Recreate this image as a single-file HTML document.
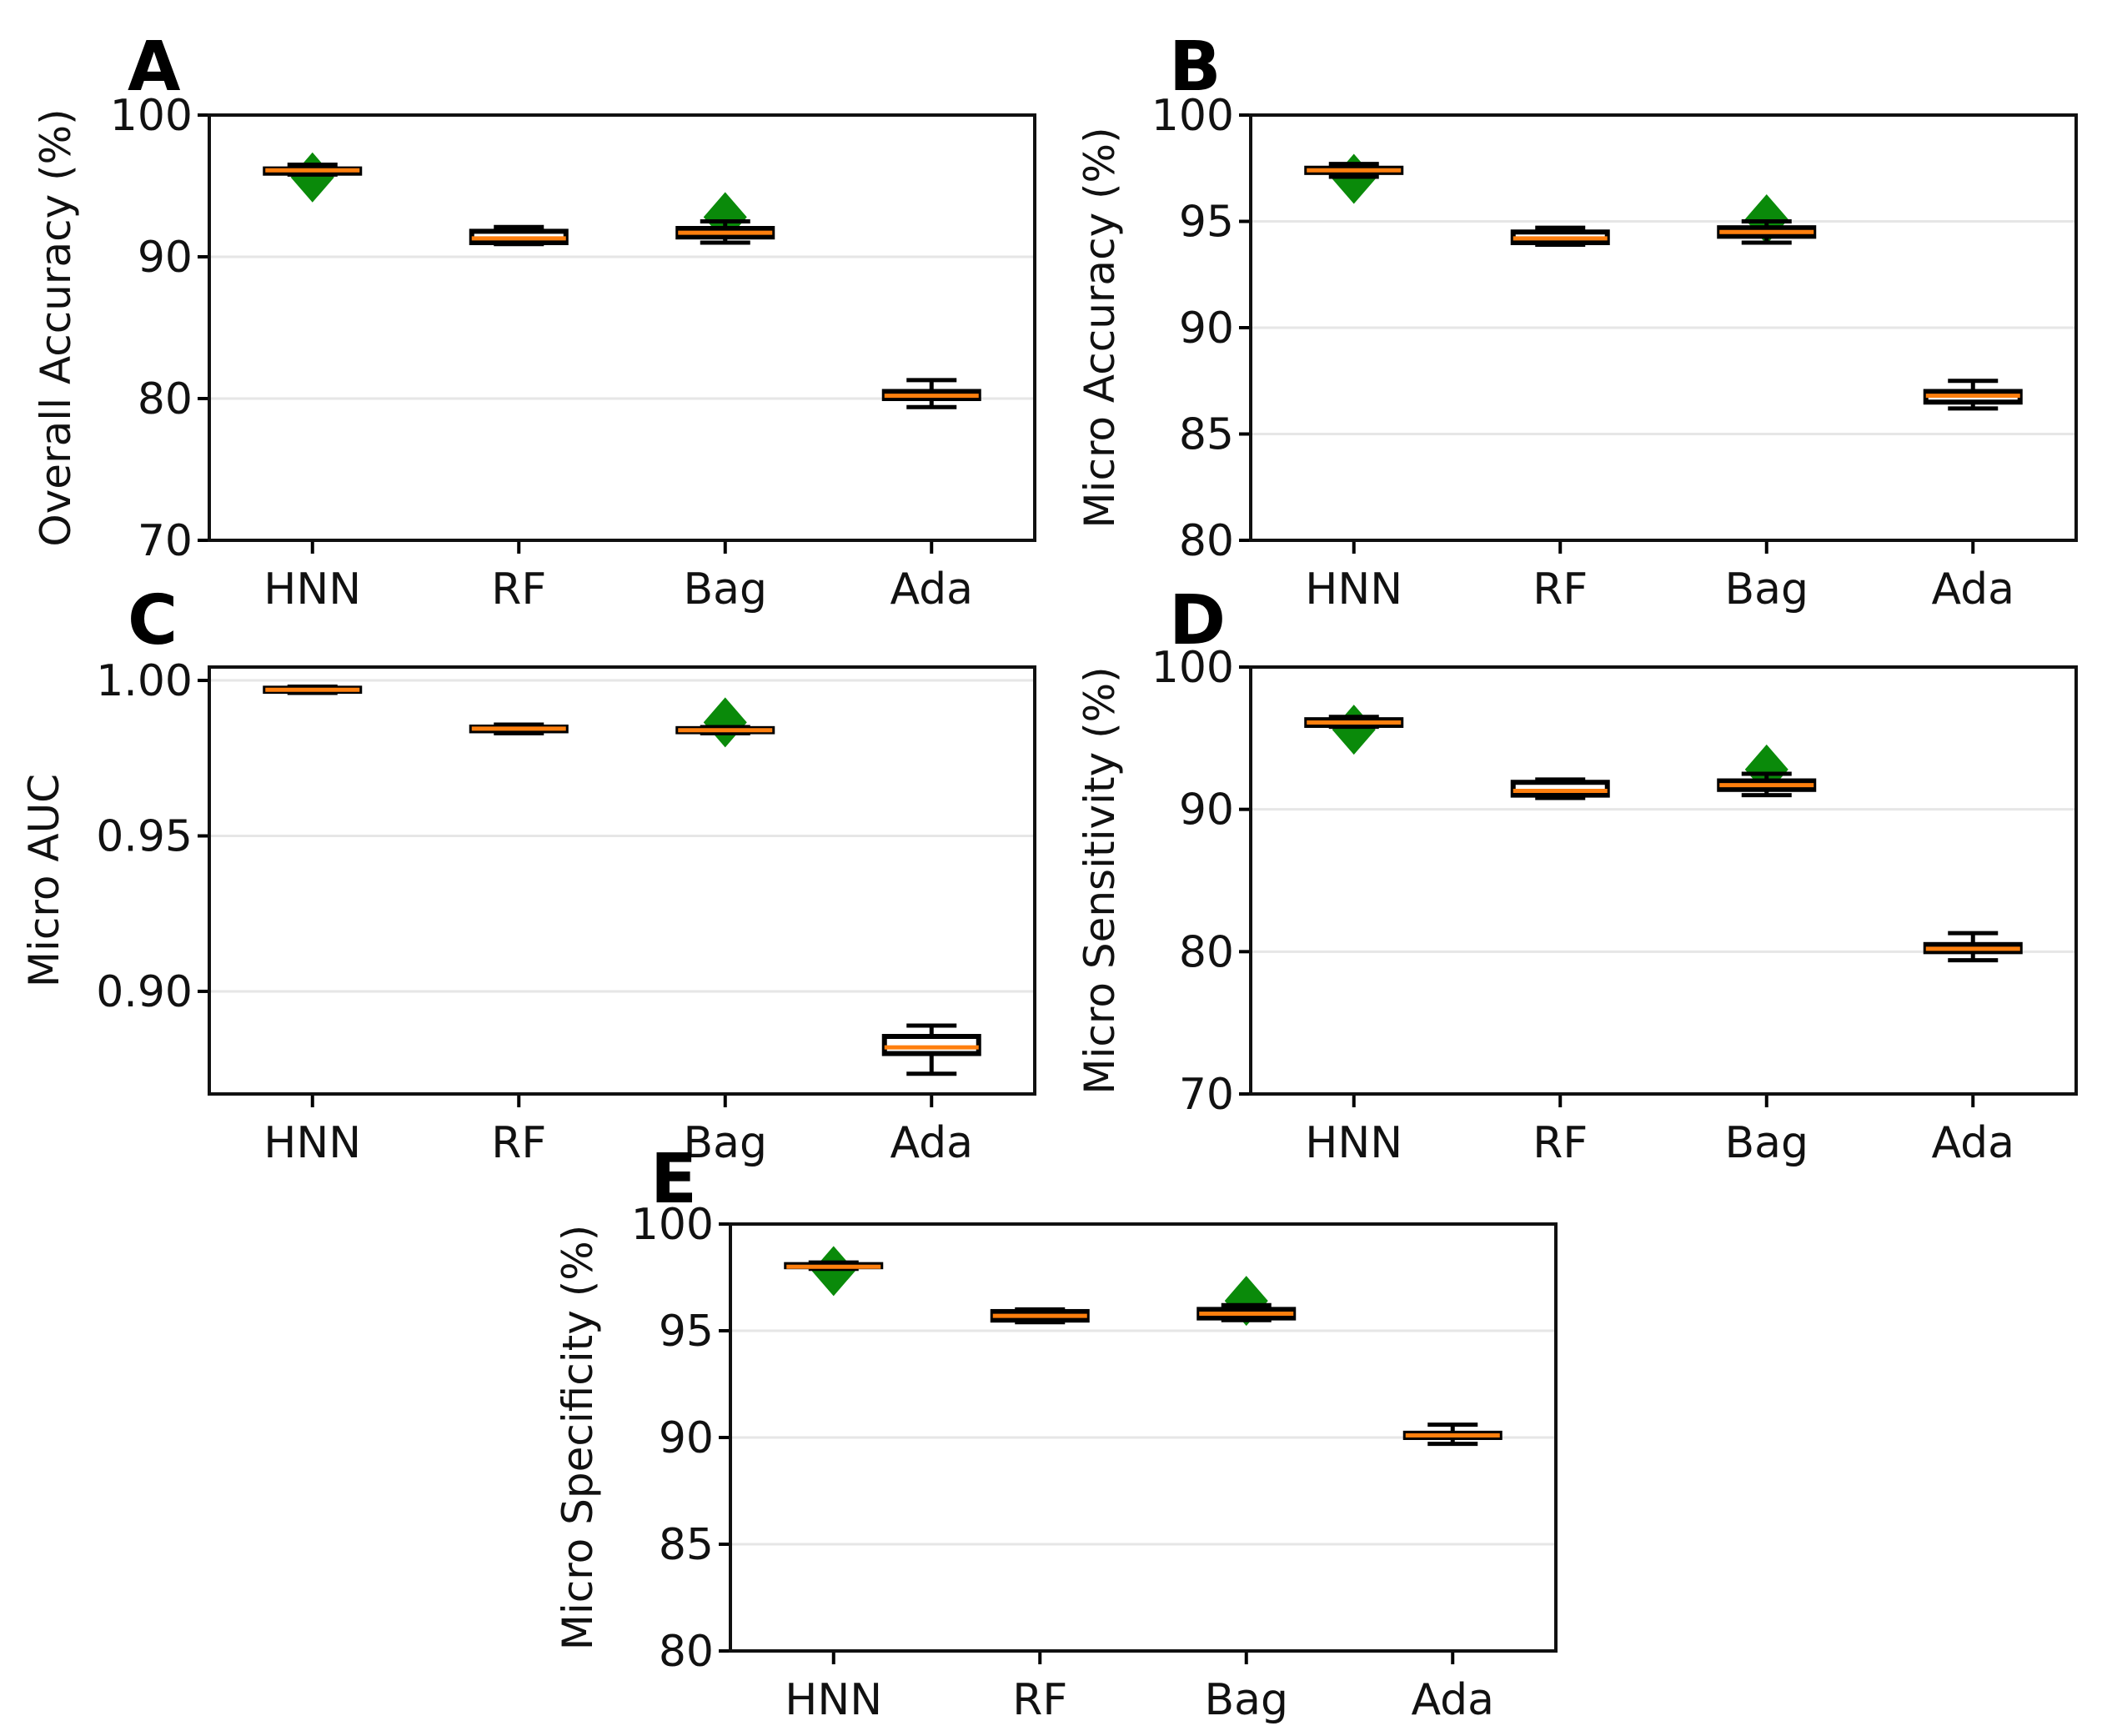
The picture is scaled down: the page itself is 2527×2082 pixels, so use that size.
<!DOCTYPE html>
<html><head><meta charset="utf-8"><style>
html,body{margin:0;padding:0;background:#fff;}
svg{display:block;font-family:"DejaVu Sans","Liberation Sans",sans-serif;}
</style></head><body>
<svg id="fig" width="2527" height="2082" viewBox="0 0 2527 2082" xmlns="http://www.w3.org/2000/svg"></svg>
<script>
const categories = ["HNN","RF","Bag","Ada"];
// per panel: [whiskerLow, q1, median, q3, whiskerHigh]
const statsA = [[95.8,95.9,96.1,96.2,96.5],[90.9,91.0,91.3,91.8,92.1],[91.0,91.4,91.7,92.0,92.5],[79.4,80.0,80.2,80.5,81.3]];
const meansA = [95.6,null,92.8,null];
const statsB = [[97.1,97.3,97.4,97.5,97.7],[93.9,94.0,94.2,94.5,94.7],[94.0,94.3,94.5,94.7,95.0],[86.2,86.5,86.8,87.0,87.5]];
const meansB = [97.0,null,95.1,null];
const statsC = [[0.9960,0.9965,0.9970,0.9975,0.9980],[0.9830,0.9838,0.9845,0.9850,0.9858],[0.9830,0.9835,0.9840,0.9845,0.9850],[0.8735,0.8800,0.8820,0.8855,0.8890]];
const meansC = [null,null,0.9865,null];
const statsD = [[95.8,95.9,96.1,96.3,96.5],[90.8,91.0,91.3,91.9,92.1],[91.0,91.4,91.7,92.0,92.5],[79.4,80.0,80.2,80.5,81.3]];
const meansD = [95.6,null,92.8,null];
const statsE = [[97.9,98.0,98.0,98.1,98.2],[95.4,95.5,95.7,95.9,96.0],[95.5,95.6,95.8,96.0,96.2],[89.7,90.0,90.1,90.2,90.6]];
const meansE = [97.8,null,96.4,null];
const ticksA = [70,80,90,100];
const ticksB = [80,85,90,95,100];
const ticksC = [0.90,0.95,1.00];
const ticksD = [70,80,90,100];
const ticksE = [80,85,90,95,100];
const tickLabelsC = ["0.90","0.95","1.00"];

const NS="http://www.w3.org/2000/svg";
const svg=document.getElementById('fig');
function mk(tag,attrs,parent){const e=document.createElementNS(NS,tag);for(const k in attrs)e.setAttribute(k,attrs[k]);(parent||svg).appendChild(e);return e;}

function panel(id,letter,L,T,R,B,ymin,ymax,ticks,tickLabels,stats,means,ylabel,labelX,letterX,letterY){
  const g=mk('g',{});
  
  
  const y=v=>B-(v-ymin)/(ymax-ymin)*(B-T);
  const x=i=>L+(R-L)*(i+0.5)/categories.length;
  ticks.forEach((t,i)=>{
    const gl=mk('line',{x1:L,x2:R,y1:y(t),y2:y(t),stroke:'#e6e6e6','stroke-width':3},g);
    
    
    mk('line',{x1:L-14,x2:L,y1:y(t),y2:y(t),stroke:'#000','stroke-width':4},g);
    const tl=mk('text',{x:L-20,y:y(t)+18,'text-anchor':'end','font-size':52,fill:'#111'},g);
    tl.textContent=tickLabels?tickLabels[i]:String(t);
    
    
  });
  const bw=113, cw=60;
  categories.forEach((c,i)=>{
    const cx=x(i), s=stats[i];
    const bg=mk('g',{},g);
    
    
    if(means[i]!=null){
      const my=y(means[i]);
      const d=mk('polygon',{points:`${cx},${my-30} ${cx+26},${my} ${cx},${my+30} ${cx-26},${my}`,fill:'#0a8a0a'},bg);
      
      
    }
    mk('line',{x1:cx,x2:cx,y1:y(s[0]),y2:y(s[1]),stroke:'#000','stroke-width':5},bg);
    mk('line',{x1:cx,x2:cx,y1:y(s[3]),y2:y(s[4]),stroke:'#000','stroke-width':5},bg);
    mk('line',{x1:cx-cw/2,x2:cx+cw/2,y1:y(s[0]),y2:y(s[0]),stroke:'#000','stroke-width':5},bg);
    mk('line',{x1:cx-cw/2,x2:cx+cw/2,y1:y(s[4]),y2:y(s[4]),stroke:'#000','stroke-width':5},bg);
    const h=Math.max(y(s[1])-y(s[3]),2);
    mk('rect',{x:cx-bw/2,y:y(s[3]),width:bw,height:h,fill:'#fff',stroke:'#000','stroke-width':6},bg);
    mk('line',{x1:cx-bw/2,x2:cx+bw/2,y1:y(s[2]),y2:y(s[2]),stroke:'#ff7f0e','stroke-width':5},bg);
    mk('line',{x1:cx,x2:cx,y1:B,y2:B+16,stroke:'#000','stroke-width':4},g);
    const xl=mk('text',{x:cx,y:B+76,'text-anchor':'middle','font-size':52,fill:'#111'},g);
    xl.textContent=c;
    
    
  });
  const fr=mk('rect',{x:L,y:T,width:R-L,height:B-T,fill:'none',stroke:'#111','stroke-width':4},g);
  
  
  const yl=mk('text',{x:labelX,y:(T+B)/2,'text-anchor':'middle','font-size':50,fill:'#111',transform:`rotate(-90 ${labelX} ${(T+B)/2})`},g);
  yl.textContent=ylabel;
  
  
  const lt=mk('text',{x:letterX,y:letterY,'font-size':82,'font-weight':'bold',fill:'#000'},g);
  lt.textContent=letter;
  
  
}
panel('a','A',251,138,1241,648,70,100,ticksA,null,statsA,meansA,'Overall Accuracy (%)',84,153,108);
panel('b','B',1500,138,2490,648,80,100,ticksB,null,statsB,meansB,'Micro Accuracy (%)',1336,1402,108);
panel('c','C',251,800,1241,1312,0.867,1.0043,ticksC,tickLabelsC,statsC,meansC,'Micro AUC',70,153,772);
panel('d','D',1500,800,2490,1312,70,100,ticksD,null,statsD,meansD,'Micro Sensitivity (%)',1336,1402,772);
panel('e','E',876,1468,1866,1980,80,100,ticksE,null,statsE,meansE,'Micro Specificity (%)',710,780,1442);
</script>
</body></html>
